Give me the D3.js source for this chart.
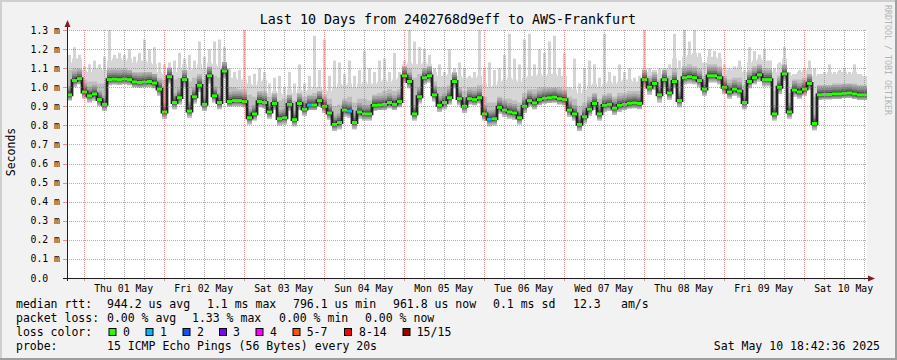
<!DOCTYPE html>
<html><head><meta charset="utf-8">
<script src="https://cdn.jsdelivr.net/npm/d3@7"></script>
<style>body{margin:0;background:#f2f2f2}svg{display:block}text{font-family:"DejaVu Sans Mono",monospace}</style>
</head><body><svg id="c" width="897" height="360"></svg>
<script>
// ---------------- data ----------------
const title = "Last 10 Days from 2402768d9eff to AWS-Frankfurt";
const yAxisTitle = "Seconds";
const watermark = "RRDTOOL / TOBI OETIKER";
const yTicks = [0,0.1,0.2,0.3,0.4,0.5,0.6,0.7,0.8,0.9,1.0,1.1,1.2,1.3];
const yTickLabels = ["0.0","0.1 m","0.2 m","0.3 m","0.4 m","0.5 m","0.6 m","0.7 m","0.8 m","0.9 m","1.0 m","1.1 m","1.2 m","1.3 m"];
const dayLabels = ["Thu 01 May","Fri 02 May","Sat 03 May","Sun 04 May","Mon 05 May","Tue 06 May","Wed 07 May","Thu 08 May","Fri 09 May","Sat 10 May"];

// median RTT (ms), one value per 90 minutes, from Apr 30 19:00 UTC
const median = [0.96,1.035,1.045,0.975,0.955,0.965,0.935,0.91,1.04,1.042,
 1.04,1.043,1.04,1.028,1.025,1.027,1.03,1.022,0.99,0.87,
 1.055,0.92,0.945,1.04,0.875,0.95,1.01,0.91,1.06,0.955,
 0.92,1.085,0.925,0.93,0.93,0.925,0.84,0.86,0.925,0.92,
 0.87,0.915,0.835,0.84,0.91,0.83,0.915,0.885,0.907,0.907,
 0.93,0.9,0.865,0.805,0.815,0.88,0.875,0.815,0.87,0.86,
 0.86,0.905,0.907,0.91,0.92,0.91,0.925,1.06,1.03,0.86,
 0.95,1.05,1.06,0.96,0.905,0.92,0.945,1.03,0.94,0.9,
 0.94,0.935,0.945,0.86,0.832,0.835,0.895,0.88,0.87,0.865,
 0.84,0.9,0.93,0.918,0.935,0.942,0.945,0.948,0.94,0.935,
 0.88,0.86,0.805,0.845,0.885,0.915,0.86,0.905,0.91,0.89,
 0.905,0.91,0.916,0.918,0.915,1.04,1.0,1.02,0.96,1.04,
 0.97,1.03,0.93,1.05,1.055,1.05,1.035,0.99,1.06,1.06,
 1.05,1.0,0.975,0.99,0.98,0.92,1.03,1.05,1.065,1.04,
 1.04,0.86,1.0,1.07,0.87,0.985,0.975,0.99,1.02,0.81,
 0.96,0.962,0.962,0.965,0.965,0.968,0.97,0.965,0.96,0.96];
// lowest ping
const rttMin = [0.93,1.0,1.015,0.94,0.92,0.93,0.9,0.875,1.01,1.015,
 1.012,1.015,1.01,1.0,0.998,1.0,1.0,0.995,0.955,0.835,
 1.02,0.885,0.91,1.0,0.84,0.915,0.975,0.875,1.02,0.92,
 0.885,1.05,0.9,0.9,0.9,0.895,0.805,0.825,0.895,0.89,
 0.835,0.88,0.8,0.805,0.875,0.795,0.88,0.85,0.88,0.88,
 0.9,0.865,0.83,0.77,0.78,0.845,0.84,0.78,0.835,0.825,
 0.825,0.875,0.88,0.88,0.89,0.88,0.895,1.025,0.995,0.825,
 0.915,1.015,1.025,0.925,0.87,0.885,0.91,0.995,0.905,0.865,
 0.91,0.905,0.915,0.825,0.795,0.8,0.86,0.845,0.835,0.83,
 0.805,0.865,0.9,0.885,0.905,0.915,0.918,0.92,0.91,0.905,
 0.845,0.825,0.77,0.81,0.85,0.88,0.825,0.87,0.875,0.855,
 0.87,0.88,0.888,0.89,0.885,1.0,0.96,0.985,0.92,1.0,
 0.935,0.995,0.895,1.015,1.02,1.015,1.0,0.955,1.025,1.025,
 1.015,0.965,0.94,0.955,0.945,0.885,0.995,1.015,1.03,1.005,
 1.005,0.825,0.965,1.035,0.835,0.95,0.94,0.955,0.985,0.775,
 0.935,0.937,0.937,0.94,0.94,0.943,0.945,0.94,0.935,0.935];
// upper edge of the dense smoke
const rttUpper = [1.09,1.1,1.1,1.04,1.03,1.03,1.02,1.02,1.1,1.1,
 1.1,1.1,1.09,1.08,1.08,1.08,1.08,1.07,1.05,1.04,
 1.1,1.04,1.05,1.09,1.03,1.05,1.07,1.04,1.1,1.06,
 1.05,1.12,1.0,1.0,0.99,0.99,0.96,0.95,0.98,0.98,
 0.95,0.97,0.93,0.94,0.96,0.93,0.97,0.95,0.96,0.97,
 0.98,0.96,0.94,0.9,0.91,0.94,0.95,0.92,0.94,0.94,
 0.93,0.96,0.97,0.98,0.99,0.98,0.99,1.11,1.1,1.05,
 1.07,1.1,1.11,1.03,1.0,1.0,1.01,1.07,1.0,0.98,
 1.0,1.0,1.01,0.95,0.92,0.92,0.95,0.94,0.94,0.93,
 0.92,0.97,0.99,0.99,1.0,1.0,1.0,1.0,1.0,0.99,
 0.95,0.94,0.9,0.92,0.95,0.97,0.94,0.96,0.97,0.95,
 0.97,0.97,0.98,0.98,0.98,1.09,1.06,1.08,1.04,1.09,
 1.06,1.1,1.03,1.11,1.12,1.11,1.1,1.06,1.12,1.12,
 1.11,1.06,1.04,1.05,1.05,1.01,1.09,1.11,1.12,1.1,
 1.1,0.98,1.06,1.12,0.97,1.04,1.04,1.05,1.07,0.95,
 1.01,1.01,1.01,1.02,1.02,1.02,1.02,1.02,1.01,1.01];
// top of the continuous light smoke
const rttHigh = [1.13,1.15,1.15,1.09,1.08,1.1,1.1,1.09,1.14,1.15,
 1.15,1.14,1.15,1.13,1.14,1.14,1.13,1.12,1.08,1.07,
 1.1,1.08,1.1,1.12,1.09,1.1,1.12,1.1,1.13,1.12,
 1.11,1.13,1.05,1.05,1.04,1.04,1.02,1.01,1.03,1.04,
 0.97,0.98,0.97,0.96,0.99,0.97,0.99,0.98,0.99,1.0,
 1.0,0.99,0.98,1.0,1.02,1.01,1.02,1.0,1.02,1.03,
 1.02,1.02,1.03,1.04,1.03,1.04,1.05,1.12,1.13,1.12,
 1.12,1.13,1.12,1.08,1.06,1.06,1.07,1.08,1.06,1.05,
 1.05,1.05,1.06,1.02,1.0,1.01,1.03,1.04,1.05,1.04,
 1.03,1.05,1.06,1.06,1.07,1.06,1.07,1.07,1.06,1.06,
 1.0,0.99,0.97,0.99,1.01,1.02,1.0,1.02,1.03,1.02,
 1.03,1.04,1.04,1.03,1.03,1.1,1.08,1.09,1.07,1.1,
 1.1,1.15,1.1,1.16,1.17,1.18,1.16,1.13,1.16,1.16,
 1.15,1.1,1.09,1.1,1.11,1.08,1.13,1.14,1.15,1.14,
 1.14,1.08,1.12,1.15,1.06,1.07,1.08,1.09,1.1,1.06,
 1.07,1.07,1.08,1.07,1.08,1.08,1.07,1.08,1.07,1.06];
// highest ping (spike tops)
const rttMax = [1.17,1.21,1.17,1.11,1.12,1.14,1.12,1.16,1.3,1.17,
 1.18,1.17,1.2,1.16,1.18,1.25,1.2,1.21,1.13,1.12,
 1.13,1.14,1.18,1.15,1.17,1.14,1.24,1.16,1.2,1.24,
 1.25,1.21,1.1,1.08,1.09,1.3,1.06,1.07,1.1,1.08,
 1.02,1.05,1.06,1.0,1.08,1.02,1.12,1.02,1.06,1.27,
 1.09,1.25,1.06,1.14,1.13,1.07,1.14,1.06,1.09,1.19,
 1.1,1.08,1.14,1.15,1.08,1.18,1.08,1.14,1.3,1.24,
 1.21,1.2,1.17,1.1,1.12,1.08,1.2,1.1,1.13,1.1,
 1.06,1.08,1.3,1.1,1.13,1.09,1.1,1.17,1.28,1.15,
 1.12,1.25,1.28,1.12,1.2,1.18,1.24,1.27,1.1,1.18,
 1.0,1.15,1.02,1.1,1.14,1.12,1.05,1.28,1.08,1.06,
 1.12,1.08,1.1,1.05,1.06,1.3,1.1,1.08,1.1,1.08,
 1.12,1.28,1.14,1.3,1.24,1.3,1.18,1.12,1.2,1.19,
 1.18,1.12,1.1,1.11,1.14,1.09,1.21,1.19,1.17,1.2,
 1.12,1.1,1.13,1.21,1.08,1.07,1.09,1.1,1.14,1.1,
 1.07,1.08,1.12,1.08,1.09,1.1,1.08,1.12,1.07,1.06];
// samples with packet loss: index and lost pings
const lossIndex = [48,56,84];
const lossPings = [1,1,1];

const lossBins = ["0","1","2","3","4","5-7","8-14","15/15"];
const lossColors = ["#26ff00","#00b8ff","#0059ff","#7e00ff","#ff00ff","#ff5500","#ff0000","#a10000"];
const legendRttLabel = "median rtt:";
const legendRtt = ["944.2 us avg","1.1 ms max","796.1 us min","961.8 us now","0.1 ms sd","12.3","am/s"];
const legendLossLabel = "packet loss:";
const legendLoss = ["0.00 % avg","1.33 % max","0.00 % min","0.00 % now"];
const legendColorLabel = "loss color:";
const legendProbeLabel = "probe:";
const probeText = "15 ICMP Echo Pings (56 Bytes) every 20s";
const stamp = "Sat May 10 18:42:36 2025";

// ---------------- layout ----------------
const W = 897, H = 360, X0 = 67, X1 = 867, Y0 = 278, Y1 = 30;
const start = Date.UTC(2025,3,30,19,0,0), end = start + 10*864e5, step = 90*60*1000;
const svg = d3.select("#c");
const x = d3.scaleUtc().domain([start,end]).range([X0,X1]);
const y = d3.scaleLinear().domain([0,1.3]).range([Y0,Y1]);

svg.append("rect").attr("width",W).attr("height",H).attr("fill","#f2f2f2");
svg.append("path").attr("d",`M0,0H${W}V2H2V${H}H0Z`).attr("fill","#cfcfcf");
svg.append("path").attr("d",`M${W},0V${H}H0V${H-2}H${W-2}V0Z`).attr("fill","#9e9e9e");
svg.append("rect").attr("x",X0).attr("y",Y1).attr("width",X1-X0).attr("height",Y0-Y1).attr("fill","#fff");

const pts = median.map((m,i)=>({t:start+i*step, med:m, lo:rttMin[i], up:rttUpper[i], hb:rttHigh[i], hi:rttMax[i], loss:0}));
lossIndex.forEach((k,j)=>{pts[k].loss = lossPings[j];});
const ptsEnd = pts.concat([Object.assign({}, pts[pts.length-1], {t:end})]);

const g = svg.append("g");
const areaOf = (f0,f1)=>d3.area().curve(d3.curveStepAfter).x(d=>x(d.t)).y0(f0).y1(f1);
// spikes up to the highest ping
g.selectAll("rect.spike").data(pts.filter(d=>d.hi>d.hb)).join("rect")
  .attr("x",d=>x(d.t)+1).attr("width",3)
  .attr("y",d=>y(d.hi)).attr("height",d=>y(d.hb)-y(d.hi)+1).attr("fill","#d4d4d4");
g.append("path").attr("d",areaOf(d=>y(d.lo),d=>y(d.hb))(ptsEnd)).attr("fill","#d6d6d6");
g.append("path").attr("d",areaOf(d=>y(d.lo),d=>y(d.up))(ptsEnd)).attr("fill","#bdbdbd");
const bands = [[5,-9,"#a4a4a4"],[3.5,-6.5,"#8a8a8a"],[2.5,-4.5,"#6c6c6c"],[1.5,-2.5,"#4a4a4a"]];
bands.forEach(([b,t,c])=>{
  g.append("path").attr("d",areaOf(d=>Math.min(y(d.med)+b,y(d.lo)),d=>y(d.med)+t)(ptsEnd)).attr("fill",c);
});
g.append("path").attr("d",d3.line().curve(d3.curveStepAfter).x(d=>x(d.t)).y(d=>y(d.med))(ptsEnd))
  .attr("fill","none").attr("stroke","#222").attr("stroke-width",2.8);
const lossColorOf = n => n===0?lossColors[0]:n<=4?lossColors[n]:n<=7?lossColors[5]:n<=14?lossColors[6]:lossColors[7];
g.selectAll("rect.med").data(pts).join("rect")
  .attr("x",d=>x(d.t)).attr("width",d=>x(d.t+step)-x(d.t))
  .attr("y",d=>y(d.med)-1.5).attr("height",3).attr("fill",d=>lossColorOf(d.loss));

// grid (drawn on top like rrdtool)
const grid = svg.append("g");
const MAJ = "rgba(222,79,79,0.6)", MIN = "rgba(143,143,143,0.75)";
const hours = d3.utcHour.every(6).range(start,end).filter(t=>+t>start);
hours.forEach(t=>{
  const major = t.getUTCHours()===0;
  const xx = Math.round(x(t))+0.5;
  grid.append("line").attr("x1",xx).attr("x2",xx).attr("y1",Y1).attr("y2",Y0)
    .attr("stroke",major?MAJ:MIN).attr("stroke-dasharray","1 1");
  grid.append("line").attr("x1",xx).attr("x2",xx).attr("y1",Y0).attr("y2",Y0+(major?3:2))
    .attr("stroke",major?MAJ:MIN);
});
yTicks.forEach(v=>{
  const yy = Math.round(y(v))+0.5;
  if (v>0) grid.append("line").attr("x1",X0).attr("x2",X1).attr("y1",yy).attr("y2",yy)
    .attr("stroke",MAJ).attr("stroke-dasharray","1 1");
  grid.append("line").attr("x1",X0-4).attr("x2",X0).attr("y1",yy).attr("y2",yy)
    .attr("stroke",v>0?MAJ:"#1f1f1f");
});
// axes
grid.append("line").attr("x1",X0+0.5).attr("x2",X0+0.5).attr("y1",Y0+3).attr("y2",Y1-6).attr("stroke","#1f1f1f");
grid.append("line").attr("x1",X0-4).attr("x2",X1+4).attr("y1",Y0+0.5).attr("y2",Y0+0.5).attr("stroke","#1f1f1f");
svg.append("path").attr("d",`M${X0+0.5},${Y1-10}L${X0+3.5},${Y1-3}L${X0-2.5},${Y1-3}Z`).attr("fill","#801f1f");
svg.append("path").attr("d",`M${X1+8},${Y0+0.5}L${X1+1},${Y0+3.5}L${X1+1},${Y0-2.5}Z`).attr("fill","#801f1f");

// texts
svg.append("text").attr("x",448).attr("y",24).attr("text-anchor","middle").attr("font-size","13.3px").text(title);
svg.append("text").attr("transform","translate(15,152) rotate(-90)").attr("text-anchor","middle").attr("font-size","11.5px").text(yAxisTitle);
svg.append("text").attr("transform","translate(885,5) rotate(90)").attr("font-size","8.3px").attr("fill","#b4b4b4").text(watermark);
yTicks.forEach((v,i)=>{
  svg.append("text").attr("x",30.5).attr("y",y(v)+3.5).attr("font-size","9.8px").text(yTickLabels[i]);
});
dayLabels.forEach((s,i)=>{
  const noon = Date.UTC(2025,4,1+i,12,0,0);
  svg.append("text").attr("x",x(noon)).attr("y",292).attr("text-anchor","middle").attr("font-size","9.8px").text(s);
});
const lg = svg.append("g").attr("font-size","11.5px");
const LX = 16, VX = 107, L1 = 308, L2 = 322, L3 = 336, L4 = 349.5;
lg.append("text").attr("x",LX).attr("y",L1).text(legendRttLabel);
const rttX = [107,207,293,393,493,573,621];
legendRtt.forEach((s,i)=>lg.append("text").attr("x",rttX[i]).attr("y",L1).text(s));
lg.append("text").attr("x",LX).attr("y",L2).text(legendLossLabel);
const lossX = [107,192,279,365];
legendLoss.forEach((s,i)=>lg.append("text").attr("x",lossX[i]).attr("y",L2).text(s));
lg.append("text").attr("x",LX).attr("y",L3).text(legendColorLabel);
const boxX = [108.5,145.5,182.5,219,255.5,292.5,344,402.5];
const binX = [123,160,197,233,270,306.7,359,416.7];
lossBins.forEach((s,i)=>{
  lg.append("rect").attr("x",boxX[i]+0.5).attr("y",L3-7.5).attr("width",7).attr("height",7)
    .attr("fill",lossColors[i]).attr("stroke","#000").attr("stroke-width",1);
  lg.append("text").attr("x",binX[i]).attr("y",L3).text(s);
});
lg.append("text").attr("x",LX).attr("y",L4).text(legendProbeLabel);
lg.append("text").attr("x",VX).attr("y",L4).text(probeText);
lg.append("text").attr("x",880).attr("y",L4).attr("text-anchor","end").text(stamp);
</script></body></html>
